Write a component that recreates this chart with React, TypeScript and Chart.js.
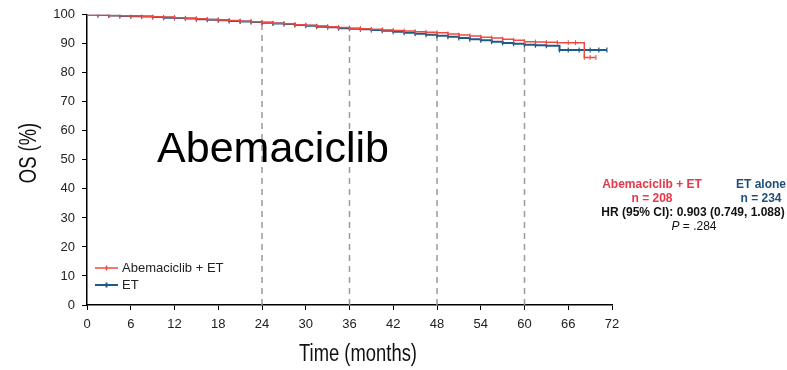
import React, { useEffect, useRef } from "react";
import { Chart, registerables } from "chart.js";

Chart.register(...registerables);

// ---- data ----
const seriesNames = ["Abemaciclib + ET", "ET"];
const abemaTimes = [0, 1.5, 3, 4.5, 6, 7.5, 9, 10.5, 12, 13.5, 15, 16.5, 18, 19.5, 21, 22.5, 24, 25.5, 27, 28.5, 30, 31.5, 33, 34.5, 36, 37.5, 39, 40.5, 42, 43.5, 45, 46.5, 48, 49.5, 51, 52.5, 54, 55.5, 57, 58.5, 60, 61.5, 63, 64.5, 66, 67, 68.2, 69, 69.8];
const abemaOS = [100, 99.9, 99.8, 99.7, 99.6, 99.5, 99.3, 99.2, 99.0, 98.8, 98.6, 98.4, 98.2, 98.0, 97.8, 97.6, 97.4, 97.1, 96.9, 96.6, 96.4, 96.1, 95.9, 95.6, 95.4, 95.2, 95.0, 94.8, 94.6, 94.4, 94.2, 94.0, 93.8, 93.4, 93.0, 92.7, 92.3, 92.0, 91.6, 91.2, 90.7, 90.6, 90.5, 90.4, 90.4, 90.4, 85.3, 85.3, 85.3];
const etTimes = [0, 1.5, 3, 4.5, 6, 7.5, 9, 10.5, 12, 13.5, 15, 16.5, 18, 19.5, 21, 22.5, 24, 25.5, 27, 28.5, 30, 31.5, 33, 34.5, 36, 37.5, 39, 40.5, 42, 43.5, 45, 46.5, 48, 49.5, 51, 52.5, 54, 55.5, 57, 58.5, 60, 61.5, 63, 64.8, 66, 67.5, 69, 70.2, 71.3];
const etOS = [100, 99.9, 99.8, 99.6, 99.5, 99.4, 99.2, 99.0, 98.9, 98.7, 98.5, 98.3, 98.1, 97.9, 97.7, 97.5, 97.3, 97.0, 96.8, 96.5, 96.2, 95.9, 95.7, 95.4, 95.2, 95.0, 94.8, 94.5, 94.2, 93.8, 93.5, 93.1, 92.8, 92.4, 92.0, 91.6, 91.2, 90.7, 90.3, 90.0, 89.7, 89.5, 89.3, 87.9, 87.9, 87.9, 87.9, 87.9, 87.9];
const landmarkMonths = [24, 36, 48, 60];
const xMin = 0, xMax = 72, xStep = 6;
const yMin = 0, yMax = 100, yStep = 10;

const RED = "#ef4a42";
const BLUE = "#1f5a86";
const TXT_RED = "#e8364a";
const TXT_BLUE = "#1c4f7c";

function stepValue(times: number[], vals: number[], t: number) {
  let v = vals[0];
  for (let i = 0; i < times.length; i++) if (times[i] <= t) v = vals[i];
  return v;
}

function condensedText(ctx: CanvasRenderingContext2D, text: string, x: number, y: number, rot: number) {
  ctx.save();
  ctx.translate(x, y);
  ctx.rotate(rot);
  ctx.scale(0.8, 1);
  ctx.fillText(text, 0, 0);
  ctx.restore();
}

const overlayPlugin = {
  id: "overlay",
  beforeDatasetsDraw(chart: any) {
    const { ctx, scales } = chart;
    const x = scales.x, y = scales.y;
    ctx.save();
    ctx.strokeStyle = "#9a9a9a";
    ctx.lineWidth = 1.5;
    ctx.setLineDash([6, 5]);
    for (const m of landmarkMonths) {
      const v = Math.max(stepValue(abemaTimes, abemaOS, m), stepValue(etTimes, etOS, m));
      const px = x.getPixelForValue(m);
      ctx.beginPath();
      ctx.moveTo(px, y.getPixelForValue(0));
      ctx.lineTo(px, y.getPixelForValue(v) + 2);
      ctx.stroke();
    }
    ctx.restore();
  },
  afterDraw(chart: any) {
    const { ctx } = chart;
    ctx.save();
    // axis titles
    ctx.fillStyle = "#111";
    ctx.font = "23px 'Liberation Sans', sans-serif";
    ctx.textAlign = "center";
    ctx.textBaseline = "middle";
    condensedText(ctx, "Time (months)", 358, 355, 0);
    condensedText(ctx, "OS (%)", 30, 153, -Math.PI / 2);

    // big label
    ctx.font = "43px 'Liberation Sans', sans-serif";
    ctx.fillStyle = "#000";
    ctx.fillText("Abemaciclib", 273, 150);

    // legend
    const colors = [RED, BLUE];
    ctx.font = "13px 'Liberation Sans', sans-serif";
    ctx.textAlign = "left";
    seriesNames.forEach((n, i) => {
      const ly = 268 + i * 17;
      ctx.strokeStyle = colors[i];
      ctx.lineWidth = i === 0 ? 1.5 : 2;
      ctx.beginPath();
      ctx.moveTo(95, ly);
      ctx.lineTo(118, ly);
      ctx.moveTo(106.5, ly - 2.5);
      ctx.lineTo(106.5, ly + 2.5);
      ctx.stroke();
      ctx.fillStyle = "#222";
      ctx.fillText(n, 122, ly);
    });

    // stats annotation
    ctx.textAlign = "center";
    ctx.font = "bold 12px 'Liberation Sans', sans-serif";
    ctx.fillStyle = TXT_RED;
    ctx.fillText("Abemaciclib + ET", 652, 185);
    ctx.fillText("n = 208", 652, 199);
    ctx.fillStyle = TXT_BLUE;
    ctx.fillText("ET alone", 761, 185);
    ctx.fillText("n = 234", 761, 199);
    ctx.fillStyle = "#111";
    ctx.fillText("HR (95% CI): 0.903 (0.749, 1.088)", 693, 213);
    ctx.textAlign = "left";
    ctx.font = "italic 12px 'Liberation Sans', sans-serif";
    const pW = ctx.measureText("P").width;
    ctx.font = "12px 'Liberation Sans', sans-serif";
    const rest = " = .284";
    const rW = ctx.measureText(rest).width;
    const startX = 694 - (pW + rW) / 2;
    ctx.font = "italic 12px 'Liberation Sans', sans-serif";
    ctx.fillText("P", startX, 227);
    ctx.font = "12px 'Liberation Sans', sans-serif";
    ctx.fillText(rest, startX + pW, 227);
    ctx.restore();
  },
};

export default function App() {
  const ref = useRef<HTMLCanvasElement | null>(null);
  useEffect(() => {
    if (!ref.current) return;
    const mk = (times: number[], vals: number[]) => times.map((t, i) => ({ x: t, y: vals[i] }));
    const chart = new Chart(ref.current, {
      type: "line",
      data: {
        datasets: [
          {
            label: seriesNames[0],
            data: mk(abemaTimes, abemaOS),
            borderColor: RED,
            backgroundColor: RED,
            borderWidth: 1.5,
            stepped: true,
            pointStyle: "line",
            rotation: 90,
            pointRadius: 2.5,
            pointBorderWidth: 1,
            pointBorderColor: RED,
          },
          {
            label: seriesNames[1],
            data: mk(etTimes, etOS),
            borderColor: BLUE,
            backgroundColor: BLUE,
            borderWidth: 2,
            stepped: true,
            pointStyle: "line",
            rotation: 90,
            pointRadius: 2.5,
            pointBorderWidth: 1.2,
            pointBorderColor: BLUE,
          },
        ],
      },
      options: {
        animation: false,
        responsive: false,
        maintainAspectRatio: false,
        layout: { padding: { top: 11, right: 175, left: 0, bottom: 0 } },
        plugins: { legend: { display: false }, tooltip: { enabled: false } },
        scales: {
          x: {
            type: "linear",
            min: xMin,
            max: xMax,
            ticks: {
              stepSize: xStep,
              color: "#222",
              font: { size: 13, family: "'Liberation Sans', sans-serif" },
              padding: 7,
              maxRotation: 0,
            },
            grid: { drawOnChartArea: false, color: "#000", tickLength: 5, lineWidth: 1 },
            border: { color: "#000", width: 1.5 },
            afterFit: (s: any) => {
              s.height = 65;
            },
          },
          y: {
            min: yMin,
            max: yMax,
            ticks: {
              stepSize: yStep,
              color: "#222",
              font: { size: 13, family: "'Liberation Sans', sans-serif" },
              padding: 7,
            },
            grid: { drawOnChartArea: false, color: "#000", tickLength: 5, lineWidth: 1 },
            border: { color: "#000", width: 1.5 },
            afterFit: (s: any) => {
              s.width = 87;
            },
          },
        },
      },
      plugins: [overlayPlugin],
    });
    return () => chart.destroy();
  }, []);
  return (
    <div style={{ position: "absolute", left: 0, top: 0, width: 787, height: 370, background: "#fff" }}>
      <canvas ref={ref} width={787} height={370} style={{ width: 787, height: 370 }} />
    </div>
  );
}
